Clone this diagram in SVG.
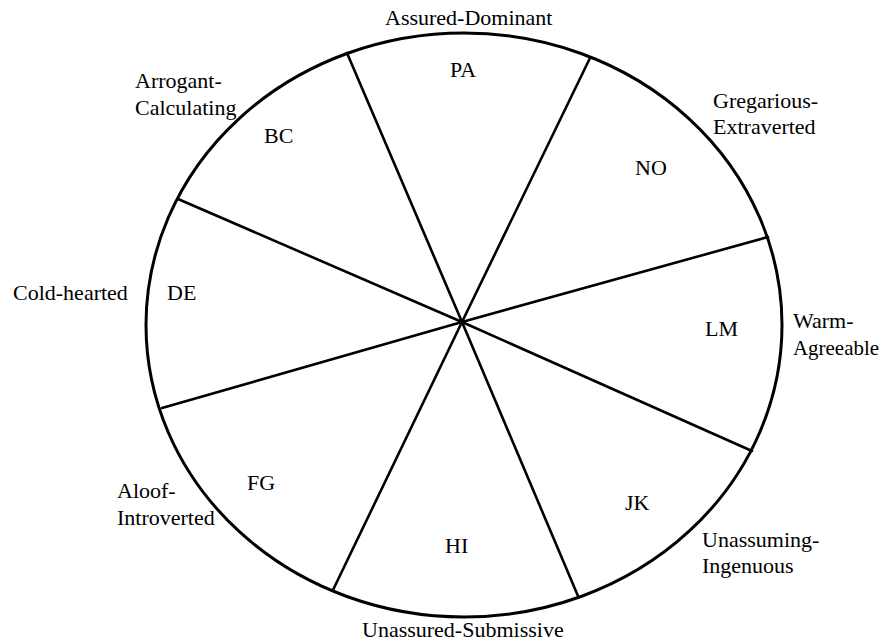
<svg xmlns="http://www.w3.org/2000/svg" width="881" height="641" viewBox="0 0 881 641">
<style>
text{font-family:'Liberation Serif','DejaVu Serif','Times New Roman',Times,serif;font-size:22px;fill:#000}
.c{stroke:#000;stroke-width:3;fill:none}
.s{stroke:#000;stroke-width:2.6;fill:none;stroke-linecap:round}
</style>
<rect width="881" height="641" fill="#fff"/>
<ellipse id="circle" class="c" cx="464" cy="325" rx="318" ry="292"/>
<g id="spokes">
<line class="s" x1="462" y1="322" x2="347" y2="53"/>
<line class="s" x1="462" y1="322" x2="590" y2="58"/>
<line class="s" x1="462" y1="322" x2="768" y2="237"/>
<line class="s" x1="462" y1="322" x2="752" y2="451"/>
<line class="s" x1="462" y1="322" x2="578" y2="596"/>
<line class="s" x1="462" y1="322" x2="333" y2="590"/>
<line class="s" x1="462" y1="322" x2="162" y2="408"/>
<line class="s" x1="462" y1="322" x2="178" y2="199"/>
</g>
<g id="PA"><text x="450" y="77">PA</text><text x="385" y="25">Assured-Dominant</text></g>
<g id="NO"><text x="635" y="175">NO</text><text x="713" y="108">Gregarious-</text><text x="713" y="134">Extraverted</text></g>
<g id="LM"><text x="705" y="336">LM</text><text x="793" y="328">Warm-</text><text x="793" y="355" textLength="86" lengthAdjust="spacingAndGlyphs">Agreeable</text></g>
<g id="JK"><text x="625" y="510">JK</text><text x="702" y="547">Unassuming-</text><text x="702" y="573">Ingenuous</text></g>
<g id="HI"><text x="445" y="553">HI</text><text x="362" y="637">Unassured-Submissive</text></g>
<g id="FG"><text x="247" y="490">FG</text><text x="117" y="498">Aloof-</text><text x="117" y="525">Introverted</text></g>
<g id="DE"><text x="167" y="300">DE</text><text x="13" y="300">Cold-hearted</text></g>
<g id="BC"><text x="264" y="143">BC</text><text x="135" y="88">Arrogant-</text><text x="135" y="115">Calculating</text></g>
</svg>
